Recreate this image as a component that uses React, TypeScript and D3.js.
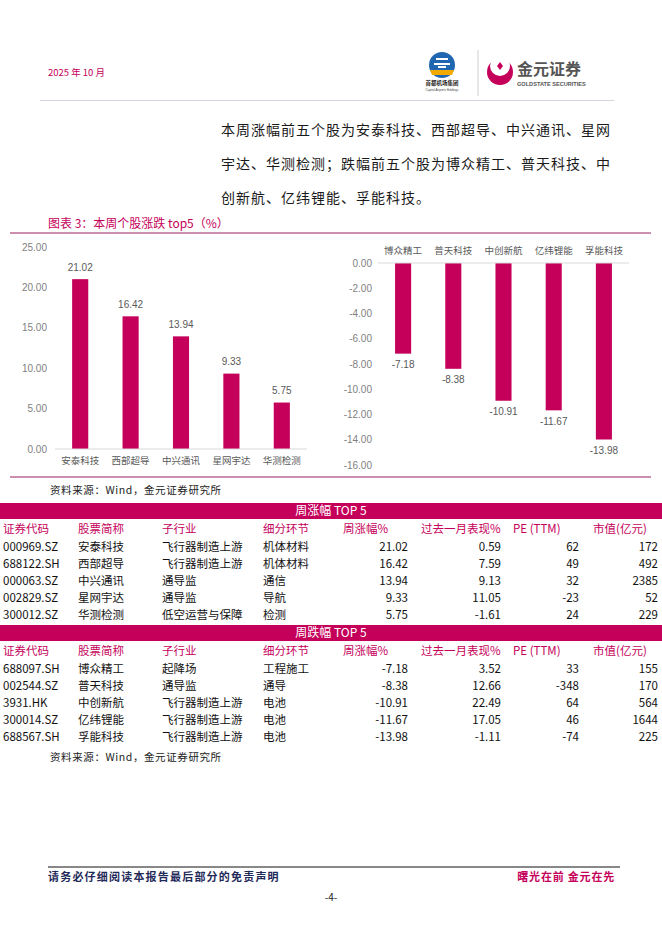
import * as d3 from 'd3';

// ---- chart data ----
const gainNames = ['安泰科技', '西部超导', '中兴通讯', '星网宇达', '华测检测'];
const gainValues = [21.02, 16.42, 13.94, 9.33, 5.75];
const lossNames = ['博众精工', '普天科技', '中创新航', '亿纬锂能', '孚能科技'];
const lossValues = [-7.18, -8.38, -10.91, -11.67, -13.98];
const gainTicks = [0, 5, 10, 15, 20, 25];
const lossTicks = [0, -2, -4, -6, -8, -10, -12, -14, -16];

// ---- table data ----
const tableHeaders = ['证券代码', '股票简称', '子行业', '细分环节', '周涨幅%', '过去一月表现%', 'PE (TTM)', '市值(亿元)'];
const gainCodes = ['000969.SZ', '688122.SH', '000063.SZ', '002829.SZ', '300012.SZ'];
const gainIndustry = ['飞行器制造上游', '飞行器制造上游', '通导监', '通导监', '低空运营与保障'];
const gainSegment = ['机体材料', '机体材料', '通信', '导航', '检测'];
const gainMonth = ['0.59', '7.59', '9.13', '11.05', '-1.61'];
const gainPE = ['62', '49', '32', '-23', '24'];
const gainCap = ['172', '492', '2385', '52', '229'];
const lossCodes = ['688097.SH', '002544.SZ', '3931.HK', '300014.SZ', '688567.SH'];
const lossIndustry = ['起降场', '通导监', '飞行器制造上游', '飞行器制造上游', '飞行器制造上游'];
const lossSegment = ['工程施工', '通导', '电池', '电池', '电池'];
const lossMonth = ['3.52', '12.66', '22.49', '17.05', '-1.11'];
const lossPE = ['33', '-348', '64', '46', '-74'];
const lossCap = ['155', '170', '564', '1644', '225'];

const paragraph = [
  '本周涨幅前五个股为安泰科技、西部超导、中兴通讯、星网',
  '宇达、华测检测；跌幅前五个股为博众精工、普天科技、中',
  '创新航、亿纬锂能、孚能科技。',
];

const MAGENTA = '#c5005a';
const CJK = '"Noto Sans CJK SC", sans-serif';
const SANS = '"Liberation Sans", Arial, sans-serif';

const fmt = (v: number) => v.toFixed(2);

function Section({ top, title, codes, names, industry, segment, week, month, pe, cap }: any) {
  // left-aligned columns start x, right-aligned columns end x
  const leftX = [3, 78, 162, 263];
  const headerX = [3, 78, 162, 263, 343, 421, 513, 593];
  const rightX = [408, 501, 579, 658];
  const rowY = (i: number) => top + 44 + i * 17.1;
  return (
    <g fontFamily={CJK} fontSize={11.5}>
      <rect x={0} y={top} width={662} height={16} fill={MAGENTA} />
      <text x={331} y={top + 8} dy="0.35em" fill="#fff" textAnchor="middle" fontSize={12}>
        {title}
      </text>
      {tableHeaders.map((h, i) => (
        <text key={h} x={headerX[i]} y={top + 26} dy="0.35em" fill={MAGENTA}>
          {h}
        </text>
      ))}
      {codes.map((c: string, i: number) => {
        const left = [c, names[i], industry[i], segment[i]];
        const right = [fmt(week[i]), month[i], pe[i], cap[i]];
        return (
          <g key={c} fill="#111">
            {left.map((t, j) => (
              <text key={'l' + j} x={leftX[j]} y={rowY(i)} dy="0.35em">
                {t}
              </text>
            ))}
            {right.map((t, j) => (
              <text key={'r' + j} x={rightX[j]} y={rowY(i)} dy="0.35em" textAnchor="end">
                {t}
              </text>
            ))}
          </g>
        );
      })}
    </g>
  );
}

export default function App() {
  // left chart: weekly gainers
  const xGain = d3.scaleBand<string>().domain(gainNames).range([55, 307]).paddingInner(0.68).paddingOuter(0.34);
  const yGain = d3.scaleLinear().domain([0, 25]).range([449, 247]);
  // right chart: weekly losers
  const xLoss = d3.scaleBand<string>().domain(lossNames).range([378, 629]).paddingInner(0.68).paddingOuter(0.34);
  const yLoss = d3.scaleLinear().domain([-16, 0]).range([465, 263]);

  return (
    <svg width={662} height={936} style={{ position: 'absolute', left: 0, top: 0, background: '#fff' }}>
      {/* header */}
      <text x={48} y={73} dy="0.35em" fill={MAGENTA} fontFamily={CJK} fontSize={9.5}>
        2025 年 10 月
      </text>
      {/* airport group logo */}
      <g>
        <circle cx={442} cy={65} r={13} fill="#1f67b1" />
        <path d="M430,70 L454,70 L452,75 L432,75 Z" fill="#f2a900" />
        <rect x={436} y={58} width={12} height={2} fill="#fff" />
        <rect x={434} y={63} width={16} height={2} fill="#fff" />
        <rect x={438} y={66} width={8} height={2} fill="#fff" />
        <text x={442} y={85} textAnchor="middle" fontFamily={CJK} fontSize={5.5} fontWeight="bold" fill="#222">
          首都机场集团
        </text>
        <text x={442} y={91} textAnchor="middle" fontFamily={SANS} fontSize={3} fill="#444">
          Capital Airports Holdings
        </text>
      </g>
      <line x1={478} x2={478} y1={50} y2={96} stroke="#cfcfcf" />
      {/* goldstate logo */}
      <g>
        <circle cx={500} cy={72} r={13} fill={MAGENTA} />
        <circle cx={500} cy={66} r={10} fill="#fff" />
        <path d="M500,62 L503,66 L500,70 L497,66 Z" fill={MAGENTA} />
        <text x={517} y={69} dy="0.35em" fontFamily={CJK} fontSize={16} fontWeight="bold" fill="#555">
          金元证券
        </text>
        <text x={517} y={86} fontFamily={SANS} fontSize={5.6} fontWeight="bold" fill="#555">
          GOLDSTATE SECURITIES
        </text>
      </g>
      <line x1={40} x2={614} y1={100.5} y2={100.5} stroke="#b8b8c8" strokeWidth={0.6} />

      {/* paragraph */}
      {paragraph.map((l, i) => (
        <text key={i} x={221} y={130 + i * 34} dy="0.35em" fontFamily={CJK} fontSize={14} letterSpacing={1} fill="#1a1a1a">
          {l}
        </text>
      ))}

      {/* chart title */}
      <text x={48} y={224} dy="0.35em" fill={MAGENTA} fontFamily={CJK} fontSize={12}>
        图表 3：本周个股涨跌 top5（%）
      </text>
      <line x1={10} x2={651} y1={233} y2={233} stroke="#9c1c5e" strokeWidth={1} />
      <line x1={10} x2={651} y1={477} y2={477} stroke="#9c1c5e" strokeWidth={1} />

      {/* left chart */}
      <g fontFamily={SANS}>
        {gainTicks.map((t) => (
          <text key={t} x={47} y={yGain(t)} dy="0.35em" textAnchor="end" fontSize={10} fill="#7f7f7f">
            {fmt(t)}
          </text>
        ))}
        {gainNames.map((n, i) => (
          <g key={n}>
            <rect x={xGain(n)} y={yGain(gainValues[i])} width={xGain.bandwidth()} height={yGain(0) - yGain(gainValues[i])} fill={MAGENTA} />
            <text x={xGain(n)! + xGain.bandwidth() / 2} y={yGain(gainValues[i]) - 12} dy="0.35em" textAnchor="middle" fontSize={10} fill="#595959">
              {fmt(gainValues[i])}
            </text>
            <text x={xGain(n)! + xGain.bandwidth() / 2} y={461} dy="0.35em" textAnchor="middle" fontSize={9.5} fontFamily={CJK} fill="#595959">
              {n}
            </text>
          </g>
        ))}
        <line x1={55} x2={307} y1={yGain(0)} y2={yGain(0)} stroke="#d9d9d9" />
      </g>

      {/* right chart */}
      <g fontFamily={SANS}>
        {lossTicks.map((t) => (
          <text key={t} x={372} y={yLoss(t)} dy="0.35em" textAnchor="end" fontSize={10} fill="#7f7f7f">
            {fmt(t)}
          </text>
        ))}
        {lossNames.map((n, i) => (
          <g key={n}>
            <rect x={xLoss(n)} y={yLoss(0)} width={xLoss.bandwidth()} height={yLoss(lossValues[i]) - yLoss(0)} fill={MAGENTA} />
            <text x={xLoss(n)! + xLoss.bandwidth() / 2} y={yLoss(lossValues[i]) + 11} dy="0.35em" textAnchor="middle" fontSize={10} fill="#595959">
              {fmt(lossValues[i])}
            </text>
            <text x={xLoss(n)! + xLoss.bandwidth() / 2} y={251} dy="0.35em" textAnchor="middle" fontSize={9.5} fontFamily={CJK} fill="#595959">
              {n}
            </text>
          </g>
        ))}
        <line x1={378} x2={629} y1={yLoss(0)} y2={yLoss(0)} stroke="#d9d9d9" />
      </g>

      {/* table */}
      <text x={50} y={490} dy="0.35em" fontFamily={CJK} fontSize={10.5} letterSpacing={0.6} fill="#222">
        资料来源：Wind，金元证券研究所
      </text>
      <Section top={503} title="周涨幅 TOP 5" codes={gainCodes} names={gainNames} industry={gainIndustry} segment={gainSegment} week={gainValues} month={gainMonth} pe={gainPE} cap={gainCap} />
      <Section top={625} title="周跌幅 TOP 5" codes={lossCodes} names={lossNames} industry={lossIndustry} segment={lossSegment} week={lossValues} month={lossMonth} pe={lossPE} cap={lossCap} />
      <text x={50} y={757} dy="0.35em" fontFamily={CJK} fontSize={10.5} letterSpacing={0.6} fill="#222">
        资料来源：Wind，金元证券研究所
      </text>

      {/* footer */}
      <line x1={48} x2={620} y1={867} y2={867} stroke="#111" strokeWidth={1} />
      <text x={48} y={877} dy="0.35em" fontFamily={CJK} fontSize={11} letterSpacing={1.2} fontWeight="bold" fill="#1f2a5a">
        请务必仔细阅读本报告最后部分的免责声明
      </text>
      <text x={615} y={877} dy="0.35em" textAnchor="end" fontFamily={CJK} fontSize={11} letterSpacing={0.8} fontWeight="bold" fill={MAGENTA}>
        曙光在前 金元在先
      </text>
      <text x={331} y={897} dy="0.35em" textAnchor="middle" fontFamily={CJK} fontSize={10} fill="#222">
        -4-
      </text>
    </svg>
  );
}
